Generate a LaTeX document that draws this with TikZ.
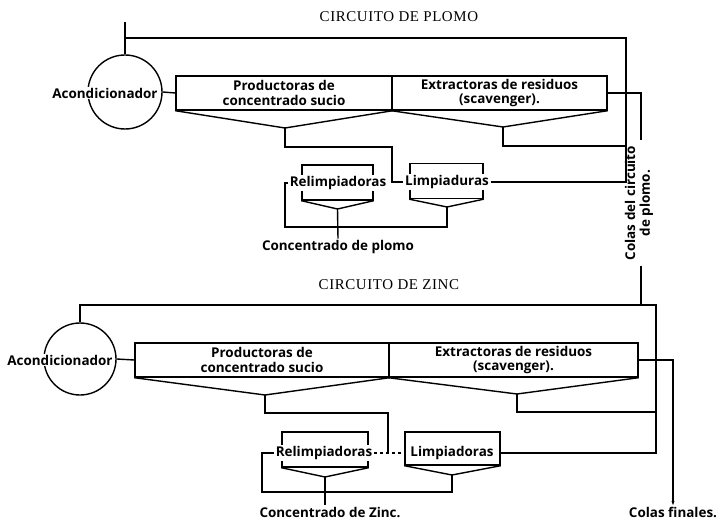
\documentclass[tikz,border=0pt]{standalone}
\usepackage{fontspec}
\setmainfont{Open Sans}
\newfontfamily\titlefont[LetterSpace=4]{Liberation Serif}
\usetikzlibrary{arrows.meta}
\begin{document}
\begin{tikzpicture}[x=1bp,y=-1bp,
  line width=1.4bp,
  lab/.style={font=\fontsize{13.5}{15}\selectfont\bfseries, inner sep=1bp, align=center},
  wlab/.style={lab, fill=white},
  bank/.style={draw, rectangle, minimum height=34bp, inner sep=0pt, font=\fontsize{13.5}{15}\selectfont\bfseries, align=center},
  cell/.style={draw, rectangle, inner sep=0pt},
  ttl/.style={font=\titlefont\fontsize{15}{17}\selectfont, anchor=west, inner sep=0pt},
  cond/.style={draw, circle, inner sep=0pt},
]
\useasboundingbox[fill=white] (0,0) rectangle (719,520);

% ---------------- CIRCUITO DE PLOMO ----------------
\node[ttl] (tP) at (319,17) {CIRCUITO DE PLOMO};

\node[cond, minimum size=74bp] (acP) at (125,92) {};
\node[wlab] (acPl) at (105,93) {Acondicionador};

\node[bank, minimum width=216bp] (roP) at (284,93) {Productoras de\\concentrado sucio};
\node[bank, minimum width=215bp] (scP) at (499.5,93) {Extractoras de residuos\\(scavenger).};
\coordinate (roPv) at (285,128);
\coordinate (scPv) at (503,127);
\draw (roP.south west) -- (roPv) -- (roP.south east);
\draw (scP.south west) -- (scPv) -- (scP.south east);

\draw (acP.east) -- (roP.west);

\node[cell, minimum width=71bp, minimum height=35bp] (reP) at (337.5,182.5) {};
\node[wlab] (rePl) at (338,183) {Relimpiadoras};
\coordinate (rePv) at (337.5,209);
\draw (reP.south west) -- (rePv) -- (reP.south east);

\node[cell, minimum width=73bp, minimum height=35bp] (liP) at (446.5,181) {};
\node[wlab] (liPl) at (447,182) {Limpiaduras};
\coordinate (liPv) at (447,207);
\draw (liP.south west) -- (liPv) -- (liP.south east);

\node[lab] (cpP) at (338,247) {Concentrado de plomo};

% feed and recycle line
\coordinate (feedP) at (125,22);
\coordinate (rcPtr) at (626,38);
\draw (feedP) -- (acP.north);
\draw (liPl.east) -| (rcPtr) -| (acP.north);

% rougher concentrate to cleaners
\coordinate (roPa) at (285,147);
\coordinate (roPb) at (392,147);
\draw (roPv) -- (roPa) -- (roPb) |- (liPl.west);

% scavenger concentrate to recycle
\coordinate (scPa) at (503,146);
\draw (scPv) -- (scPa) -- (scPa -| rcPtr);

% cleaner concentrate to recleaners
\coordinate (liPa) at (447,227);
\coordinate (liPb) at (285,227);
\draw (liPv) -- (liPa) -- (liPb) |- (rePl.west);

% final lead concentrate
\draw (rePv) -- (cpP.north);

% lead tails
\coordinate (stPa) at (641,93);
\coordinate (stPb) at (641,140);
\coordinate (stPc) at (641,266);
\coordinate (stPd) at (641,305);
\draw (scP.east) -- (stPa) -- (stPb);
\node[lab, rotate=90] (colP) at (639,203) {Colas del circuito\\de plomo.};
\draw (stPc) -- (stPd);

% ---------------- CIRCUITO DE ZINC ----------------
\node[ttl] (tZ) at (318,285) {CIRCUITO DE ZINC};

\node[cond, minimum size=72bp] (acZ) at (80,359) {};
\node[wlab] (acZl) at (60,360) {Acondicionador};

\node[bank, minimum width=254bp] (roZ) at (262,360) {Productoras de\\concentrado sucio};
\node[bank, minimum width=249bp] (scZ) at (513.5,360) {Extractoras de residuos\\(scavenger).};
\coordinate (roZv) at (265,395);
\coordinate (scZv) at (517,394);
\draw (roZ.south west) -- (roZv) -- (roZ.south east);
\draw (scZ.south west) -- (scZv) -- (scZ.south east);

\draw (acZ.east) -- (roZ.west);

\node[cell, minimum width=86bp, minimum height=35bp] (reZ) at (325,449.5) {};
\node[wlab] (reZl) at (324,453) {Relimpiadoras};
\coordinate (reZv) at (325,477);
\draw (reZ.south west) -- (reZv) -- (reZ.south east);

\node[cell, minimum width=95bp, minimum height=33bp] (liZ) at (452.5,448.5) {};
\node[wlab] (liZl) at (452,453) {Limpiadoras};
\coordinate (liZv) at (452,475);
\draw (liZ.south west) -- (liZv) -- (liZ.south east);

\node[lab, anchor=base] (cpZ) at (330,517) {Concentrado de Zinc.};
\node[lab, anchor=base] (cfZ) at (673,517) {Colas finales.};

% recycle line
\coordinate (rcZtl) at (80,305);
\coordinate (rcZtr) at (656,305);
\draw (liZ.east |- liZl.east) -| (rcZtr) -| (acZ.north);

% rougher concentrate to cleaner line
\coordinate (roZa) at (265,413);
\coordinate (roZb) at (388,413);
\draw (roZv) -- (roZa) -- (roZb) -- (roZb |- reZl.east);

% recleaner tails to cleaners
\draw[dashed] (reZl.east) -- (reZl.east -| liZ.west);

% scavenger concentrate
\coordinate (scZa) at (517,412);
\draw (scZv) -- (scZa) -- (scZa -| rcZtr);

% cleaner concentrate to recleaners
\coordinate (liZa) at (452,492);
\coordinate (liZb) at (262,492);
\draw (liZv) -- (liZa) -- (liZb) |- (reZl.west);

% final zinc concentrate
\draw (reZv) -- (325,505);

% final tails
\coordinate (stZa) at (673,360);
\draw[-{Stealth[length=4bp,width=3bp]}] (scZ.east) -- (stZa) -- (cfZ.north);
\end{tikzpicture}
\end{document}
